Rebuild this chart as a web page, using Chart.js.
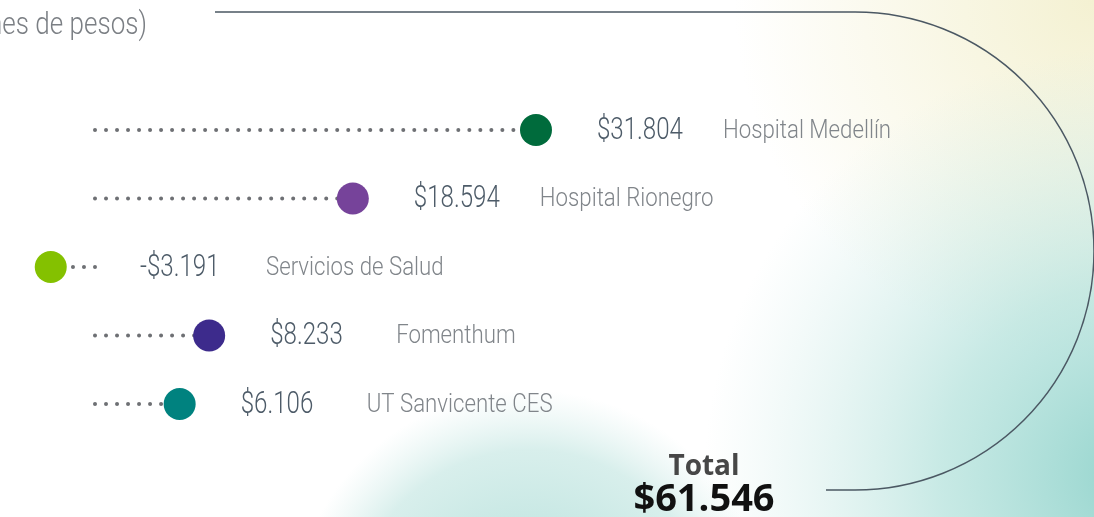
<!DOCTYPE html>
<html>
<head>
<meta charset="utf-8">
<script src="https://cdn.jsdelivr.net/npm/chart.js@4.4.0/dist/chart.umd.min.js"></script>
<style>
  html, body { margin: 0; padding: 0; background: #fff; overflow: hidden; }
  #wrap { width: 1094px; height: 517px; position: relative; }
</style>
</head>
<body>
<div id="wrap"><canvas id="lolli"></canvas></div>
<script>
// data (millones de pesos)
var names = ['Hospital Medellín', 'Hospital Rionegro', 'Servicios de Salud', 'Fomenthum', 'UT Sanvicente CES'];
var values = [31804, 18594, -3191, 8233, 6106];
var valueLabels = ['$31.804', '$18.594', '-$3.191', '$8.233', '$6.106'];
var dotColors = ['#006b3c', '#76439a', '#84c100', '#3d2b8c', '#00827f'];
var totalLabel = '$61.546';
var unitsLabel = '(millones de pesos)';

var thin = 'Roboto, "Liberation Sans", sans-serif';
var bold = '"Open Sans", "Noto Sans", sans-serif';
var squeeze = null; // horizontal factor to fake a condensed face

function narrowText(ctx, text, x, y, size, color, align, widen) {
  ctx.save();
  if (squeeze === null) {
    ctx.font = '300 31px ' + thin;
    squeeze = 86 / ctx.measureText('$31.804').width;
  }
  ctx.font = '300 ' + size + 'px ' + thin;
  ctx.fillStyle = color;
  ctx.textBaseline = 'middle';
  ctx.textAlign = align || 'left';
  ctx.translate(x, y);
  ctx.scale(squeeze * (widen || 1), 1);
  ctx.fillText(text, 0, 0);
  ctx.restore();
}

// backdrop, frame and title
var backdrop = {
  id: 'backdrop',
  beforeDraw: function(chart) {
    var ctx = chart.ctx, w = chart.width, h = chart.height;
    ctx.save();
    ctx.fillStyle = '#ffffff';
    ctx.fillRect(0, 0, w, h);

    var g = ctx.createRadialGradient(w, 0, 0, w, 0, 360);
    g.addColorStop(0, 'rgba(244,241,210,1)');
    g.addColorStop(1, 'rgba(244,241,210,0)');
    ctx.fillStyle = g;
    ctx.fillRect(0, 0, w, h);

    g = ctx.createRadialGradient(w + 40, h - 40, 0, w + 40, h - 40, 430);
    g.addColorStop(0, 'rgba(148,212,205,1)');
    g.addColorStop(0.45, 'rgba(170,222,215,0.65)');
    g.addColorStop(1, 'rgba(200,232,228,0)');
    ctx.fillStyle = g;
    ctx.fillRect(0, 0, w, h);

    g = ctx.createRadialGradient(530, 630, 0, 530, 630, 240);
    g.addColorStop(0, 'rgba(170,220,214,1)');
    g.addColorStop(0.75, 'rgba(190,228,223,0.6)');
    g.addColorStop(1, 'rgba(205,234,230,0)');
    ctx.fillStyle = g;
    ctx.fillRect(0, 0, w, h);

    // outline
    ctx.strokeStyle = '#4b5863';
    ctx.lineWidth = 1.5;
    ctx.beginPath();
    ctx.moveTo(215, 12);
    ctx.lineTo(855, 12);
    ctx.arc(855, 251, 239, -Math.PI / 2, Math.PI / 2);
    ctx.lineTo(826, 490);
    ctx.stroke();
    ctx.restore();

    narrowText(ctx, unitsLabel, 147, 26, 31, '#7b7f84', 'right', 1.08);

    ctx.save();
    ctx.textAlign = 'center';
    ctx.textBaseline = 'middle';
    ctx.fillStyle = '#474747';
    ctx.font = 'bold 28px ' + bold;
    ctx.fillText('Total', 704, 467);
    ctx.fillStyle = '#111111';
    ctx.font = 'bold 38px ' + bold;
    ctx.fillText(totalLabel, 704, 500);
    ctx.restore();
  }
};

// value and name next to every dot
var rowLabels = {
  id: 'rowLabels',
  afterDatasetsDraw: function(chart) {
    var ctx = chart.ctx;
    var zeroX = chart.scales.x.getPixelForValue(0);
    var meta = chart.getDatasetMeta(0);
    meta.data.forEach(function(pt, i) {
      var anchor = values[i] >= 0 ? pt.x : zeroX - 16;
      narrowText(ctx, valueLabels[i], anchor + 61, pt.y + 1, 31, '#4d5b68');
      narrowText(ctx, names[i], anchor + 187, pt.y + 1, 26, '#80858a', 'left', 1.1);
    });
  }
};

// dots first (drawn on top), then one dotted stem per row from 0 to the value
var datasets = [{
  type: 'scatter',
  order: 0,
  data: names.map(function(n, i) { return {x: values[i], y: n}; }),
  backgroundColor: dotColors,
  borderWidth: 0,
  pointRadius: 16,
  pointHoverRadius: 16,
  clip: false
}];
names.forEach(function(n, i) {
  datasets.push({
    type: 'line',
    order: 1,
    data: [{x: 0, y: n}, {x: values[i], y: n}],
    borderColor: '#6e7074',
    borderWidth: 4,
    borderDash: [0.01, 11],
    borderCapStyle: 'round',
    pointRadius: 0,
    clip: false
  });
});

new Chart(document.getElementById('lolli'), {
  type: 'scatter',
  data: { labels: names, datasets: datasets },
  options: {
    responsive: true,
    maintainAspectRatio: false,
    animation: false,
    layout: { autoPadding: false, padding: { top: 130, bottom: 113, left: 0, right: 0 } },
    plugins: { legend: { display: false }, tooltip: { enabled: false } },
    scales: {
      x: { type: 'linear', min: -6851, max: 72048, display: false },
      y: { type: 'category', labels: names, offset: false, display: false }
    }
  },
  plugins: [backdrop, rowLabels]
});
</script>
</body>
</html>
